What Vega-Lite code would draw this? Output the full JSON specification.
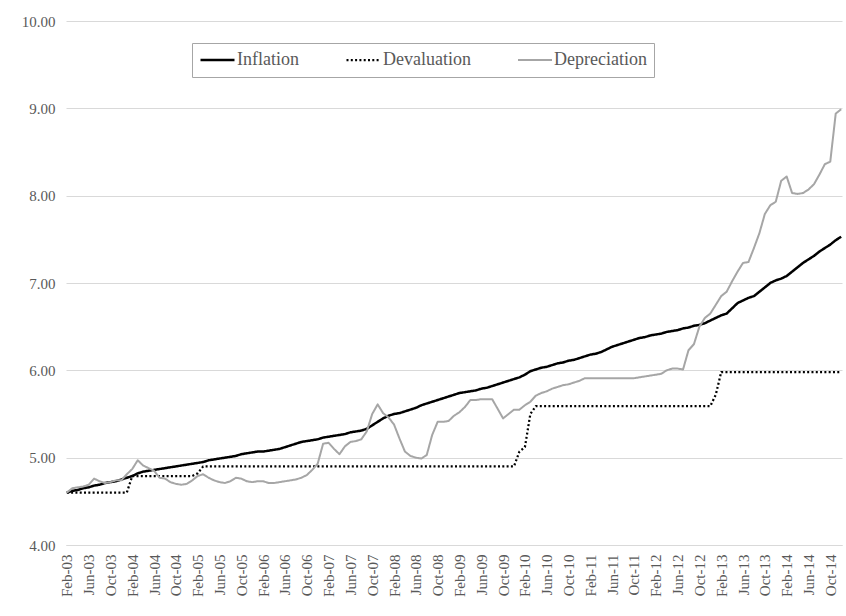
{
  "$schema": "https://vega.github.io/schema/vega-lite/v6.json",
  "width": 776,
  "height": 524,
  "autosize": {"type": "none"},
  "padding": {"left": 66, "top": 21, "right": 4, "bottom": 71},
  "background": "white",
  "config": {
    "view": {"stroke": null},
    "font": "Liberation Serif",
    "axis": {"labelFont": "Liberation Serif"},
    "legend": {"labelFont": "Liberation Serif"}
  },
  "data": {"values": [
    {"m":"Feb-03","Inflation":4.60,"Devaluation":4.60,"Depreciation":4.60},
    {"m":"Mar-03","Inflation":4.62,"Devaluation":4.60,"Depreciation":4.65},
    {"m":"Apr-03","Inflation":4.63,"Devaluation":4.60,"Depreciation":4.66},
    {"m":"May-03","Inflation":4.65,"Devaluation":4.60,"Depreciation":4.67},
    {"m":"Jun-03","Inflation":4.66,"Devaluation":4.60,"Depreciation":4.69},
    {"m":"Jul-03","Inflation":4.68,"Devaluation":4.60,"Depreciation":4.76},
    {"m":"Aug-03","Inflation":4.69,"Devaluation":4.60,"Depreciation":4.73},
    {"m":"Sep-03","Inflation":4.71,"Devaluation":4.60,"Depreciation":4.71},
    {"m":"Oct-03","Inflation":4.72,"Devaluation":4.60,"Depreciation":4.72},
    {"m":"Nov-03","Inflation":4.73,"Devaluation":4.60,"Depreciation":4.74},
    {"m":"Dec-03","Inflation":4.75,"Devaluation":4.60,"Depreciation":4.74},
    {"m":"Jan-04","Inflation":4.77,"Devaluation":4.60,"Depreciation":4.81},
    {"m":"Feb-04","Inflation":4.79,"Devaluation":4.79,"Depreciation":4.87},
    {"m":"Mar-04","Inflation":4.82,"Devaluation":4.79,"Depreciation":4.97},
    {"m":"Apr-04","Inflation":4.84,"Devaluation":4.79,"Depreciation":4.91},
    {"m":"May-04","Inflation":4.85,"Devaluation":4.79,"Depreciation":4.88},
    {"m":"Jun-04","Inflation":4.86,"Devaluation":4.79,"Depreciation":4.85},
    {"m":"Jul-04","Inflation":4.87,"Devaluation":4.79,"Depreciation":4.77},
    {"m":"Aug-04","Inflation":4.88,"Devaluation":4.79,"Depreciation":4.76},
    {"m":"Sep-04","Inflation":4.89,"Devaluation":4.79,"Depreciation":4.72},
    {"m":"Oct-04","Inflation":4.90,"Devaluation":4.79,"Depreciation":4.70},
    {"m":"Nov-04","Inflation":4.91,"Devaluation":4.79,"Depreciation":4.69},
    {"m":"Dec-04","Inflation":4.92,"Devaluation":4.79,"Depreciation":4.70},
    {"m":"Jan-05","Inflation":4.93,"Devaluation":4.79,"Depreciation":4.74},
    {"m":"Feb-05","Inflation":4.94,"Devaluation":4.82,"Depreciation":4.79},
    {"m":"Mar-05","Inflation":4.95,"Devaluation":4.90,"Depreciation":4.81},
    {"m":"Apr-05","Inflation":4.97,"Devaluation":4.90,"Depreciation":4.77},
    {"m":"May-05","Inflation":4.98,"Devaluation":4.90,"Depreciation":4.74},
    {"m":"Jun-05","Inflation":4.99,"Devaluation":4.90,"Depreciation":4.72},
    {"m":"Jul-05","Inflation":5.00,"Devaluation":4.90,"Depreciation":4.71},
    {"m":"Aug-05","Inflation":5.01,"Devaluation":4.90,"Depreciation":4.73},
    {"m":"Sep-05","Inflation":5.02,"Devaluation":4.90,"Depreciation":4.77},
    {"m":"Oct-05","Inflation":5.04,"Devaluation":4.90,"Depreciation":4.76},
    {"m":"Nov-05","Inflation":5.05,"Devaluation":4.90,"Depreciation":4.73},
    {"m":"Dec-05","Inflation":5.06,"Devaluation":4.90,"Depreciation":4.72},
    {"m":"Jan-06","Inflation":5.07,"Devaluation":4.90,"Depreciation":4.73},
    {"m":"Feb-06","Inflation":5.07,"Devaluation":4.90,"Depreciation":4.73},
    {"m":"Mar-06","Inflation":5.08,"Devaluation":4.90,"Depreciation":4.71},
    {"m":"Apr-06","Inflation":5.09,"Devaluation":4.90,"Depreciation":4.71},
    {"m":"May-06","Inflation":5.10,"Devaluation":4.90,"Depreciation":4.72},
    {"m":"Jun-06","Inflation":5.12,"Devaluation":4.90,"Depreciation":4.73},
    {"m":"Jul-06","Inflation":5.14,"Devaluation":4.90,"Depreciation":4.74},
    {"m":"Aug-06","Inflation":5.16,"Devaluation":4.90,"Depreciation":4.75},
    {"m":"Sep-06","Inflation":5.18,"Devaluation":4.90,"Depreciation":4.77},
    {"m":"Oct-06","Inflation":5.19,"Devaluation":4.90,"Depreciation":4.80},
    {"m":"Nov-06","Inflation":5.20,"Devaluation":4.90,"Depreciation":4.86},
    {"m":"Dec-06","Inflation":5.21,"Devaluation":4.90,"Depreciation":4.93},
    {"m":"Jan-07","Inflation":5.23,"Devaluation":4.90,"Depreciation":5.16},
    {"m":"Feb-07","Inflation":5.24,"Devaluation":4.90,"Depreciation":5.17},
    {"m":"Mar-07","Inflation":5.25,"Devaluation":4.90,"Depreciation":5.10},
    {"m":"Apr-07","Inflation":5.26,"Devaluation":4.90,"Depreciation":5.04},
    {"m":"May-07","Inflation":5.27,"Devaluation":4.90,"Depreciation":5.13},
    {"m":"Jun-07","Inflation":5.29,"Devaluation":4.90,"Depreciation":5.18},
    {"m":"Jul-07","Inflation":5.30,"Devaluation":4.90,"Depreciation":5.19},
    {"m":"Aug-07","Inflation":5.31,"Devaluation":4.90,"Depreciation":5.21},
    {"m":"Sep-07","Inflation":5.33,"Devaluation":4.90,"Depreciation":5.30},
    {"m":"Oct-07","Inflation":5.37,"Devaluation":4.90,"Depreciation":5.50},
    {"m":"Nov-07","Inflation":5.41,"Devaluation":4.90,"Depreciation":5.61},
    {"m":"Dec-07","Inflation":5.45,"Devaluation":4.90,"Depreciation":5.51},
    {"m":"Jan-08","Inflation":5.48,"Devaluation":4.90,"Depreciation":5.46},
    {"m":"Feb-08","Inflation":5.50,"Devaluation":4.90,"Depreciation":5.38},
    {"m":"Mar-08","Inflation":5.51,"Devaluation":4.90,"Depreciation":5.22},
    {"m":"Apr-08","Inflation":5.53,"Devaluation":4.90,"Depreciation":5.07},
    {"m":"May-08","Inflation":5.55,"Devaluation":4.90,"Depreciation":5.02},
    {"m":"Jun-08","Inflation":5.57,"Devaluation":4.90,"Depreciation":5.00},
    {"m":"Jul-08","Inflation":5.60,"Devaluation":4.90,"Depreciation":4.99},
    {"m":"Aug-08","Inflation":5.62,"Devaluation":4.90,"Depreciation":5.03},
    {"m":"Sep-08","Inflation":5.64,"Devaluation":4.90,"Depreciation":5.26},
    {"m":"Oct-08","Inflation":5.66,"Devaluation":4.90,"Depreciation":5.41},
    {"m":"Nov-08","Inflation":5.68,"Devaluation":4.90,"Depreciation":5.41},
    {"m":"Dec-08","Inflation":5.70,"Devaluation":4.90,"Depreciation":5.42},
    {"m":"Jan-09","Inflation":5.72,"Devaluation":4.90,"Depreciation":5.48},
    {"m":"Feb-09","Inflation":5.74,"Devaluation":4.90,"Depreciation":5.52},
    {"m":"Mar-09","Inflation":5.75,"Devaluation":4.90,"Depreciation":5.58},
    {"m":"Apr-09","Inflation":5.76,"Devaluation":4.90,"Depreciation":5.66},
    {"m":"May-09","Inflation":5.77,"Devaluation":4.90,"Depreciation":5.66},
    {"m":"Jun-09","Inflation":5.79,"Devaluation":4.90,"Depreciation":5.67},
    {"m":"Jul-09","Inflation":5.80,"Devaluation":4.90,"Depreciation":5.67},
    {"m":"Aug-09","Inflation":5.82,"Devaluation":4.90,"Depreciation":5.67},
    {"m":"Sep-09","Inflation":5.84,"Devaluation":4.90,"Depreciation":5.56},
    {"m":"Oct-09","Inflation":5.86,"Devaluation":4.90,"Depreciation":5.45},
    {"m":"Nov-09","Inflation":5.88,"Devaluation":4.90,"Depreciation":5.50},
    {"m":"Dec-09","Inflation":5.90,"Devaluation":4.90,"Depreciation":5.55},
    {"m":"Jan-10","Inflation":5.92,"Devaluation":5.07,"Depreciation":5.55},
    {"m":"Feb-10","Inflation":5.95,"Devaluation":5.12,"Depreciation":5.60},
    {"m":"Mar-10","Inflation":5.99,"Devaluation":5.50,"Depreciation":5.64},
    {"m":"Apr-10","Inflation":6.01,"Devaluation":5.59,"Depreciation":5.71},
    {"m":"May-10","Inflation":6.03,"Devaluation":5.59,"Depreciation":5.74},
    {"m":"Jun-10","Inflation":6.04,"Devaluation":5.59,"Depreciation":5.76},
    {"m":"Jul-10","Inflation":6.06,"Devaluation":5.59,"Depreciation":5.79},
    {"m":"Aug-10","Inflation":6.08,"Devaluation":5.59,"Depreciation":5.81},
    {"m":"Sep-10","Inflation":6.09,"Devaluation":5.59,"Depreciation":5.83},
    {"m":"Oct-10","Inflation":6.11,"Devaluation":5.59,"Depreciation":5.84},
    {"m":"Nov-10","Inflation":6.12,"Devaluation":5.59,"Depreciation":5.86},
    {"m":"Dec-10","Inflation":6.14,"Devaluation":5.59,"Depreciation":5.88},
    {"m":"Jan-11","Inflation":6.16,"Devaluation":5.59,"Depreciation":5.91},
    {"m":"Feb-11","Inflation":6.18,"Devaluation":5.59,"Depreciation":5.91},
    {"m":"Mar-11","Inflation":6.19,"Devaluation":5.59,"Depreciation":5.91},
    {"m":"Apr-11","Inflation":6.21,"Devaluation":5.59,"Depreciation":5.91},
    {"m":"May-11","Inflation":6.24,"Devaluation":5.59,"Depreciation":5.91},
    {"m":"Jun-11","Inflation":6.27,"Devaluation":5.59,"Depreciation":5.91},
    {"m":"Jul-11","Inflation":6.29,"Devaluation":5.59,"Depreciation":5.91},
    {"m":"Aug-11","Inflation":6.31,"Devaluation":5.59,"Depreciation":5.91},
    {"m":"Sep-11","Inflation":6.33,"Devaluation":5.59,"Depreciation":5.91},
    {"m":"Oct-11","Inflation":6.35,"Devaluation":5.59,"Depreciation":5.91},
    {"m":"Nov-11","Inflation":6.37,"Devaluation":5.59,"Depreciation":5.92},
    {"m":"Dec-11","Inflation":6.38,"Devaluation":5.59,"Depreciation":5.93},
    {"m":"Jan-12","Inflation":6.40,"Devaluation":5.59,"Depreciation":5.94},
    {"m":"Feb-12","Inflation":6.41,"Devaluation":5.59,"Depreciation":5.95},
    {"m":"Mar-12","Inflation":6.42,"Devaluation":5.59,"Depreciation":5.96},
    {"m":"Apr-12","Inflation":6.44,"Devaluation":5.59,"Depreciation":6.00},
    {"m":"May-12","Inflation":6.45,"Devaluation":5.59,"Depreciation":6.02},
    {"m":"Jun-12","Inflation":6.46,"Devaluation":5.59,"Depreciation":6.02},
    {"m":"Jul-12","Inflation":6.48,"Devaluation":5.59,"Depreciation":6.01},
    {"m":"Aug-12","Inflation":6.49,"Devaluation":5.59,"Depreciation":6.23},
    {"m":"Sep-12","Inflation":6.51,"Devaluation":5.59,"Depreciation":6.30},
    {"m":"Oct-12","Inflation":6.52,"Devaluation":5.59,"Depreciation":6.50},
    {"m":"Nov-12","Inflation":6.54,"Devaluation":5.59,"Depreciation":6.60},
    {"m":"Dec-12","Inflation":6.57,"Devaluation":5.59,"Depreciation":6.65},
    {"m":"Jan-13","Inflation":6.60,"Devaluation":5.72,"Depreciation":6.75},
    {"m":"Feb-13","Inflation":6.63,"Devaluation":5.98,"Depreciation":6.85},
    {"m":"Mar-13","Inflation":6.65,"Devaluation":5.98,"Depreciation":6.90},
    {"m":"Apr-13","Inflation":6.71,"Devaluation":5.98,"Depreciation":7.02},
    {"m":"May-13","Inflation":6.77,"Devaluation":5.98,"Depreciation":7.13},
    {"m":"Jun-13","Inflation":6.80,"Devaluation":5.98,"Depreciation":7.23},
    {"m":"Jul-13","Inflation":6.83,"Devaluation":5.98,"Depreciation":7.24},
    {"m":"Aug-13","Inflation":6.85,"Devaluation":5.98,"Depreciation":7.40},
    {"m":"Sep-13","Inflation":6.90,"Devaluation":5.98,"Depreciation":7.57},
    {"m":"Oct-13","Inflation":6.95,"Devaluation":5.98,"Depreciation":7.79},
    {"m":"Nov-13","Inflation":7.00,"Devaluation":5.98,"Depreciation":7.89},
    {"m":"Dec-13","Inflation":7.03,"Devaluation":5.98,"Depreciation":7.93},
    {"m":"Jan-14","Inflation":7.05,"Devaluation":5.98,"Depreciation":8.17},
    {"m":"Feb-14","Inflation":7.08,"Devaluation":5.98,"Depreciation":8.22},
    {"m":"Mar-14","Inflation":7.13,"Devaluation":5.98,"Depreciation":8.03},
    {"m":"Apr-14","Inflation":7.18,"Devaluation":5.98,"Depreciation":8.02},
    {"m":"May-14","Inflation":7.23,"Devaluation":5.98,"Depreciation":8.03},
    {"m":"Jun-14","Inflation":7.27,"Devaluation":5.98,"Depreciation":8.07},
    {"m":"Jul-14","Inflation":7.31,"Devaluation":5.98,"Depreciation":8.13},
    {"m":"Aug-14","Inflation":7.36,"Devaluation":5.98,"Depreciation":8.24},
    {"m":"Sep-14","Inflation":7.40,"Devaluation":5.98,"Depreciation":8.36},
    {"m":"Oct-14","Inflation":7.44,"Devaluation":5.98,"Depreciation":8.39},
    {"m":"Nov-14","Inflation":7.49,"Devaluation":5.98,"Depreciation":8.94},
    {"m":"Dec-14","Inflation":7.53,"Devaluation":5.98,"Depreciation":8.99}
  ]},
  "transform": [
    {"fold": ["Inflation", "Devaluation", "Depreciation"], "as": ["series", "value"]}
  ],
  "mark": {"type": "line", "strokeJoin": "round"},
  "encoding": {
    "x": {
      "field": "m",
      "type": "ordinal",
      "sort": null,
      "scale": {"type": "point", "padding": 0.15},
      "axis": {
        "title": null,
        "values": ["Feb-03","Jun-03","Oct-03","Feb-04","Jun-04","Oct-04","Feb-05","Jun-05","Oct-05","Feb-06","Jun-06","Oct-06","Feb-07","Jun-07","Oct-07","Feb-08","Jun-08","Oct-08","Feb-09","Jun-09","Oct-09","Feb-10","Jun-10","Oct-10","Feb-11","Jun-11","Oct-11","Feb-12","Jun-12","Oct-12","Feb-13","Jun-13","Oct-13","Feb-14","Jun-14","Oct-14"],
        "labelAngle": 270,
        "labelFont": "Liberation Serif",
        "labelFontSize": 15,
        "labelColor": "#595959",
        "labelPadding": 9,
        "ticks": false,
        "grid": false,
        "domain": true,
        "domainColor": "#d9d9d9",
        "domainWidth": 1
      }
    },
    "y": {
      "field": "value",
      "type": "quantitative",
      "scale": {"domain": [4, 10], "nice": false, "zero": false},
      "axis": {
        "title": null,
        "values": [4, 5, 6, 7, 8, 9, 10],
        "format": ".2f",
        "grid": true,
        "gridColor": "#d9d9d9",
        "gridWidth": 1,
        "domain": false,
        "ticks": false,
        "labelFont": "Liberation Serif",
        "labelColor": "#595959",
        "labelFontSize": 15,
        "labelPadding": 11
      }
    },
    "color": {
      "field": "series",
      "type": "nominal",
      "scale": {"domain": ["Inflation", "Devaluation", "Depreciation"], "range": ["#000000", "#000000", "#a6a6a6"]},
      "legend": {
        "title": null,
        "orient": "none",
        "legendX": 126,
        "legendY": 22,
        "direction": "horizontal",
        "symbolType": "stroke",
        "symbolSize": 1156,
        "symbolStrokeWidth": 2.5,
        "clipHeight": 20,
        "labelFont": "Liberation Serif",
        "labelFontSize": 18,
        "labelColor": "#595959",
        "labelOffset": 1,
        "labelLimit": 300,
        "columnPadding": 46,
        "padding": 7,
        "fillColor": "white",
        "strokeColor": "#a6a6a6"
      }
    },
    "strokeDash": {
      "field": "series",
      "type": "nominal",
      "scale": {"domain": ["Inflation", "Devaluation", "Depreciation"], "range": [[1, 0], [2, 2.3], [1, 0]]}
    },
    "strokeWidth": {
      "field": "series",
      "type": "nominal",
      "scale": {"domain": ["Inflation", "Devaluation", "Depreciation"], "range": [2.5, 2, 2.25]},
      "legend": null
    }
  }
}
